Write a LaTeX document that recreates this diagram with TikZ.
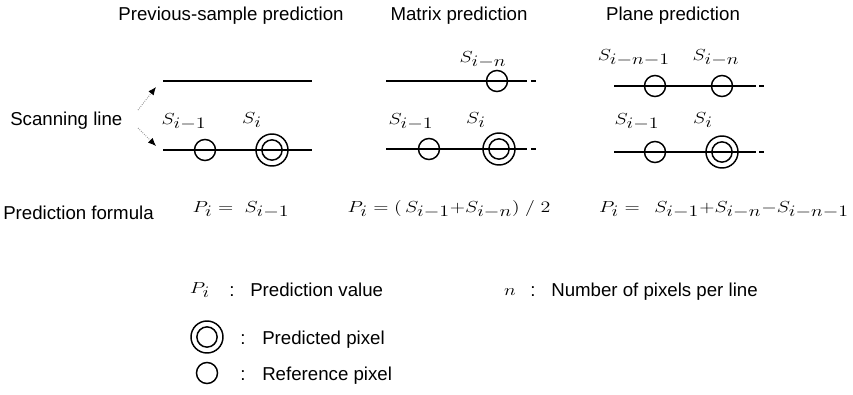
\documentclass[tikz,border=0pt]{standalone}
\usepackage{graphicx}
\usepackage[no-math]{fontspec}
\setmainfont{Liberation Sans}
\usetikzlibrary{arrows.meta, positioning}
\DeclareMathSizes{12}{12}{12}{10}
\newcommand{\wmath}[1]{\scalebox{1.25}[1]{$#1$}}
\tikzset{
    heading/.style={
        font=\fontsize{14}{17}\selectfont,
        inner sep=0pt,
        anchor=base
    },
    plain/.style={
        font=\fontsize{14}{17}\selectfont,
        inner sep=0pt,
        anchor=base west
    },
    maths/.style={
        font=\fontsize{12}{14}\selectfont,
        inner sep=0pt,
        anchor=base
    },
    refpix/.style={
        circle,
        draw,
        line width=1.1pt,
        minimum size=15.8pt,
        inner sep=0pt
    },
    predpix/.style={
        circle,
        draw,
        line width=1.1pt,
        minimum size=24pt,
        inner sep=0pt,
        path picture={\draw[line width=1.1pt] (path picture bounding box.center) circle (7.6pt);}
    },
    scanline/.style={line width=1.1pt},
    scanarrow/.style={gray, densely dotted, line width=0.6pt, -{Latex[length=6pt, width=5pt, color=black]}}
}

\begin{document}
\begin{tikzpicture}[x=0.75pt, y=-0.75pt]
\useasboundingbox (0,0) rectangle (853,394);

% headings
\node[heading] (prevtitle) at (231,20) {Previous-sample prediction};
\node[heading] (mattitle) at (459,20) {Matrix prediction};
\node[heading] (platitle) at (673,20) {Plane prediction};

% scanning lines
\node[plain] (scan) at (10,125) {Scanning line};
\coordinate (scanupT) at (138,110);
\coordinate (scanupH) at (156,87);
\coordinate (scandnT) at (138,128);
\coordinate (scandnH) at (156,146);
\draw[scanarrow] (scanupT) -- (scanupH);
\draw[scanarrow] (scandnT) -- (scandnH);

% previous-sample prediction
\coordinate (prevtopL) at (163,81);
\coordinate (prevtopR) at (312,81);
\coordinate (prevbotL) at (163,150);
\coordinate (prevbotR) at (312,150);
\draw[scanline] (prevtopL) -- (prevtopR);
\draw[scanline] (prevbotL) -- (prevbotR);
\node[refpix] (prevref) at (205,150) {};
\node[predpix] (prevpred) at (272,150) {};
\node[maths] (prevreflab) at (184,124) {\wmath{S_{i-1}}};
\node[maths] (prevpredlab) at (252,123) {\wmath{S_i}};

% matrix prediction
\coordinate (mattopL) at (386,81);
\coordinate (mattopR) at (527,81);
\coordinate (mattopD) at (531,81);
\coordinate (matbotL) at (386,149);
\coordinate (matbotR) at (527,149);
\coordinate (matbotD) at (531,149);
\draw[scanline] (mattopL) -- (mattopR);
\draw[scanline] (mattopD) -- ++(5,0);
\draw[scanline] (matbotL) -- (matbotR);
\draw[scanline] (matbotD) -- ++(5,0);
\node[refpix] (matup) at (497,81) {};
\node[refpix] (matref) at (429,149) {};
\node[predpix] (matpred) at (499,149) {};
\node[maths] (matuplab) at (483,62) {\wmath{S_{i-n}}};
\node[maths] (matreflab) at (411,124) {\wmath{S_{i-1}}};
\node[maths] (matpredlab) at (476,123) {\wmath{S_i}};

% plane prediction
\coordinate (platopL) at (614,86);
\coordinate (platopR) at (756,86);
\coordinate (platopD) at (759,86);
\coordinate (plabotL) at (614,152);
\coordinate (plabotR) at (756,152);
\coordinate (plabotD) at (759,152);
\draw[scanline] (platopL) -- (platopR);
\draw[scanline] (platopD) -- ++(5,0);
\draw[scanline] (plabotL) -- (plabotR);
\draw[scanline] (plabotD) -- ++(5,0);
\node[refpix] (plaupl) at (655,86) {};
\node[refpix] (plaupr) at (722,86) {};
\node[refpix] (plaref) at (655,152) {};
\node[predpix] (plapred) at (722,152) {};
\node[maths] (plaupllab) at (634,60) {\wmath{S_{i-n-1}}};
\node[maths] (plauprlab) at (716,60) {\wmath{S_{i-n}}};
\node[maths] (plareflab) at (637,124) {\wmath{S_{i-1}}};
\node[maths] (plapredlab) at (703,123) {\wmath{S_i}};

% prediction formulas
\node[plain] (formula) at (3,219) {Prediction formula};
\node[maths] (prevformula) at (241,212) {\wmath{P_i = \; S_{i-1}}};
\node[maths] (matformula) at (449,212) {\wmath{P_i = (\,S_{i-1}{+}S_{i-n})\;/\;2}};
\node[maths] (plaformula) at (724,212) {\wmath{P_i = \;\, S_{i-1}{+}S_{i-n}{-}S_{i-n-1}}};

% legend
\node[maths] (pkey) at (200,293) {\wmath{P_i}};
\node[plain] (pcolon) at (229,296) {:};
\node[plain] (pdesc) at (250,296) {Prediction value};
\node[maths] (nkey) at (510,295) {\wmath{n}};
\node[plain] (ncolon) at (530,296) {:};
\node[plain] (ndesc) at (551,296) {Number of pixels per line};
\node[predpix] (predkey) at (207,337) {};
\node[plain] (predcolon) at (240,344) {:};
\node[plain] (preddesc) at (262,344) {Predicted pixel};
\node[refpix] (refkey) at (207,373) {};
\node[plain] (refcolon) at (240,380) {:};
\node[plain] (refdesc) at (262,380) {Reference pixel};

\end{tikzpicture}
\end{document}
